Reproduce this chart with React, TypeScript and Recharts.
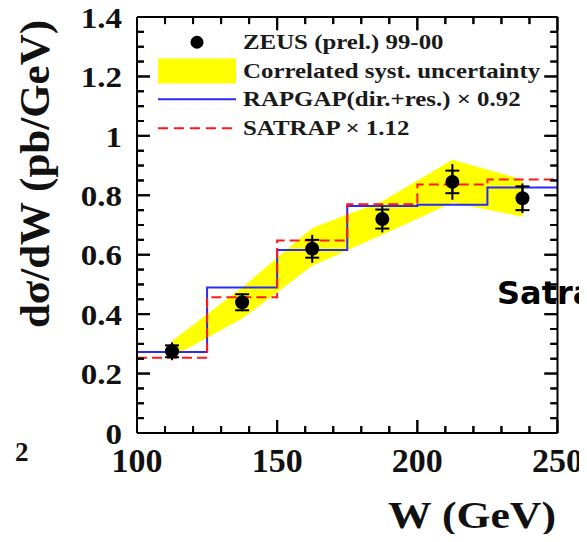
import React from 'react';
import { ComposedChart, XAxis, YAxis, Area, Line, Scatter, ErrorBar, Legend, ReferenceLine } from 'recharts';

// ---- data ----
const binEdges = [100, 125, 150, 175, 200, 225, 250];
const rapgapValues = [0.273, 0.49, 0.616, 0.764, 0.768, 0.826];
const satrapValues = [0.253, 0.457, 0.648, 0.77, 0.836, 0.853];

const zeusW = [112.5, 137.5, 162.5, 187.5, 212.5, 237.5];
const zeusValues = [0.275, 0.44, 0.62, 0.72, 0.845, 0.79];
const zeusStat = [0.02, 0.027, 0.03, 0.032, 0.038, 0.04];
const zeusTotal = [0.03, 0.03, 0.047, 0.045, 0.06, 0.05];

const bandLow = [0.256, 0.385, 0.563, 0.667, 0.775, 0.728];
const bandHigh = [0.31, 0.49, 0.69, 0.78, 0.92, 0.853];

const xTicks = [100, 150, 200, 250];
const xMinorTicks = [100, 110, 120, 130, 140, 150, 160, 170, 180, 190, 200, 210, 220, 230, 240, 250];
const yTicks = [0, 0.2, 0.4, 0.6, 0.8, 1, 1.2, 1.4];
const yMinorTicks = [0, 0.05, 0.1, 0.15, 0.2, 0.25, 0.3, 0.35, 0.4, 0.45, 0.5, 0.55, 0.6, 0.65, 0.7, 0.75, 0.8, 0.85, 0.9, 0.95, 1, 1.05, 1.1, 1.15, 1.2, 1.25, 1.3, 1.35, 1.4];

const legendLabels = [
  'ZEUS (prel.) 99-00',
  'Correlated syst. uncertainty',
  'RAPGAP(dir.+res.) \u00d7 0.92',
  'SATRAP \u00d7 1.12',
];

const X_MIN = 100;
const X_MAX = 250;
const Y_MIN = 0;
const Y_MAX = 1.4;

const isXMajor = (v: number) => xTicks.includes(v);
const isYMajor = (v: number) => yTicks.some((t) => Math.abs(t - v) < 1e-9);

// ---- derived tables ----
const stepTable = (vals: number[]) =>
  binEdges.map((w, i) => ({ w, v: vals[Math.min(i, vals.length - 1)] }));
const rapgapData = stepTable(rapgapValues);
const satrapData = stepTable(satrapValues);
const zeusData = zeusW.map((w, i) => ({ w, v: zeusValues[i], stat: zeusStat[i], tot: zeusTotal[i] }));
const bandData = zeusW.map((w, i) => ({ w, range: [bandLow[i], bandHigh[i]] }));
const frameTickData = [
  ...xMinorTicks.map((t) => ({ w: t, v: Y_MIN, major: isXMajor(t), side: 'b' })),
  ...xMinorTicks.map((t) => ({ w: t, v: Y_MAX, major: isXMajor(t), side: 't' })),
  ...yMinorTicks.map((t) => ({ w: X_MIN, v: t, major: isYMajor(t), side: 'l' })),
  ...yMinorTicks.map((t) => ({ w: X_MAX, v: t, major: isYMajor(t), side: 'r' })),
];

const SERIF = '"Liberation Serif", "Times New Roman", serif';
const BLUE = '#2a2aff';
const RED = '#ff1a1a';
const YELLOW = '#ffff00';

const MAJ_PX = 13;
const MIN_PX = 7;
const Y_TICK_MAJ = 0.045;
const Y_TICK_MIN = 0.024;
const X_TICK_MAJ = 4.7;
const X_TICK_MIN = 2.6;

const XTick = (props: any) => {
  const { x, y, payload } = props;
  const major = isXMajor(payload.value);
  return (
    <g>
      <line x1={x} x2={x} y1={y} y2={y - (major ? MAJ_PX : MIN_PX)} stroke="#000" strokeWidth={2} />
      {major && (
        <text x={x} y={y + 15} textAnchor="middle" dy="0.71em"
          fontFamily={SERIF} fontWeight="bold" fontSize={34} fill="#111">
          {payload.value}
        </text>
      )}
    </g>
  );
};

const YTick = (props: any) => {
  const { x, y, payload } = props;
  const major = isYMajor(payload.value);
  return (
    <g>
      <line x1={x} x2={x + (major ? MAJ_PX : MIN_PX)} y1={y} y2={y} stroke="#000" strokeWidth={2} />
      {major && (
        <text transform={`translate(${x - 15},${y}) scale(1.1,1)`} textAnchor="end" dy="0.355em"
          fontFamily={SERIF} fontWeight="bold" fontSize={30} fill="#111">
          {payload.value}
        </text>
      )}
    </g>
  );
};

const FrameTickShape = (p: any) => {
  const { cx, cy, payload } = p;
  const L = payload.major ? MAJ_PX : MIN_PX;
  let x2 = cx;
  let y2 = cy;
  if (payload.side === 'b') y2 = cy - L;
  else if (payload.side === 't') y2 = cy + L;
  else if (payload.side === 'l') x2 = cx + L;
  else x2 = cx - L;
  return <line x1={cx} y1={cy} x2={x2} y2={y2} stroke="#000" strokeWidth={2} />;
};

const LegendBox = () => {
  const rowH = 28.5;
  const sym = (i: number) => {
    if (i === 0)
      return (
        <svg width={78} height={rowH}><circle cx={39} cy={rowH / 2} r={6.5} fill="#000" /></svg>
      );
    if (i === 1)
      return (
        <svg width={78} height={rowH}><rect x={0} y={1.5} width={78} height={25} fill={YELLOW} /></svg>
      );
    if (i === 2)
      return (
        <svg width={78} height={rowH}><line x1={0} x2={78} y1={rowH / 2} y2={rowH / 2} stroke={BLUE} strokeWidth={2} /></svg>
      );
    return (
      <svg width={78} height={rowH}><line x1={0} x2={78} y1={rowH / 2} y2={rowH / 2} stroke={RED} strokeWidth={2} strokeDasharray="10 6" /></svg>
    );
  };
  return (
    <div>
      {legendLabels.map((lab, i) => (
        <div key={lab} style={{ display: 'flex', alignItems: 'center', height: rowH }}>
          {sym(i)}
          <span style={{
            marginLeft: 7, fontFamily: SERIF, fontWeight: 'bold', fontSize: 22, color: '#1a1a1a',
            display: 'inline-block', transform: 'scaleX(1.13)', transformOrigin: 'left center', whiteSpace: 'nowrap',
          }}>{lab}</span>
        </div>
      ))}
    </div>
  );
};

const frame = { stroke: '#000', strokeWidth: 2 };

export default function App() {
  const tickSegments = [
    ...xMinorTicks.map((t) => {
      const len = isXMajor(t) ? Y_TICK_MAJ : Y_TICK_MIN;
      return (
        <ReferenceLine key={`t${t}`} xAxisId="x" yAxisId="y" stroke="#000" strokeWidth={2}
          segment={[{ x: t, y: Y_MAX - len }, { x: t, y: Y_MAX }]} />
      );
    }),
    ...yMinorTicks.map((t) => {
      const len = isYMajor(t) ? X_TICK_MAJ : X_TICK_MIN;
      return (
        <ReferenceLine key={`r${t}`} xAxisId="x" yAxisId="y" stroke="#000" strokeWidth={2}
          segment={[{ x: X_MAX - len, y: t }, { x: X_MAX, y: t }]} />
      );
    }),
  ];

  return (
    <div style={{ position: 'relative', margin: -8, width: 587, height: 542, overflow: 'hidden', background: '#fff' }}>
      <ComposedChart width={587} height={542} margin={{ top: 17, right: 29.5, left: 0, bottom: 0 }}>
        <XAxis xAxisId="x" type="number" dataKey="w" domain={[X_MIN, X_MAX]} allowDataOverflow ticks={xMinorTicks} interval={0}
          tickLine={false} tickSize={0} tickMargin={0} axisLine={frame} tick={<XTick />} height={109} />
        <YAxis yAxisId="y" type="number" domain={[Y_MIN, Y_MAX]} allowDataOverflow ticks={yMinorTicks} interval={0}
          tickLine={false} tickSize={0} tickMargin={0} axisLine={frame} tick={<YTick />} width={137} />

        <Area xAxisId="x" yAxisId="y" data={bandData} dataKey="range" type="linear" fill={YELLOW} fillOpacity={1}
          stroke="none" isAnimationActive={false} />
        <Line xAxisId="x" yAxisId="y" data={rapgapData} dataKey="v" type="stepAfter" stroke={BLUE} strokeWidth={2}
          dot={false} isAnimationActive={false} />
        <Line xAxisId="x" yAxisId="y" data={satrapData} dataKey="v" type="stepAfter" stroke={RED} strokeWidth={2}
          strokeDasharray="10 5" dot={false} isAnimationActive={false} />

        <ReferenceLine xAxisId="x" yAxisId="y" segment={[{ x: X_MIN, y: Y_MAX }, { x: X_MAX, y: Y_MAX }]} stroke="#000" strokeWidth={2} />
        <ReferenceLine xAxisId="x" yAxisId="y" segment={[{ x: X_MAX, y: Y_MIN }, { x: X_MAX, y: Y_MAX }]} stroke="#000" strokeWidth={2} />
        {tickSegments}

        <Scatter xAxisId="x" yAxisId="y" data={frameTickData} dataKey="v" isAnimationActive={false}
          shape={FrameTickShape} legendType="none" />

        <Scatter xAxisId="x" yAxisId="y" data={zeusData} dataKey="v" fill="#000" isAnimationActive={false}
          shape={(p: any) => <circle cx={p.cx} cy={p.cy} r={7} fill="#000" />}>
          <ErrorBar dataKey="tot" direction="y" width={0} stroke="#000" strokeWidth={2} isAnimationActive={false} />
          <ErrorBar dataKey="stat" direction="y" width={7} stroke="#000" strokeWidth={2} isAnimationActive={false} />
        </Scatter>
        <Legend layout="vertical" align="center" verticalAlign="middle"
          wrapperStyle={{ top: 28, left: 158, width: 420 }} content={() => <LegendBox />} />
      </ComposedChart>

      <div style={{
        position: 'absolute', left: 34, top: 174, transform: 'translate(-50%, -50%) rotate(-90deg)',
        fontFamily: SERIF, fontWeight: 'bold', fontSize: 43, color: '#111', whiteSpace: 'nowrap',
      }}>d{'\u03c3'}/dW (pb/GeV)</div>
      <div style={{
        position: 'absolute', left: 472, top: 515, transform: 'translate(-50%, -50%) scaleX(1.15)',
        fontFamily: SERIF, fontWeight: 'bold', fontSize: 38, color: '#111', whiteSpace: 'nowrap',
      }}>W (GeV)</div>
      <div style={{
        position: 'absolute', left: 15, top: 452, transform: 'translate(0, -50%)',
        fontFamily: SERIF, fontWeight: 'bold', fontSize: 27, color: '#111',
      }}>2</div>
      <div style={{
        position: 'absolute', left: 497, top: 293, transform: 'translate(0, -50%)',
        fontFamily: '"DejaVu Sans", sans-serif', fontWeight: 'bold', fontSize: 32, color: '#000', whiteSpace: 'nowrap',
      }}>Satrap</div>
    </div>
  );
}
